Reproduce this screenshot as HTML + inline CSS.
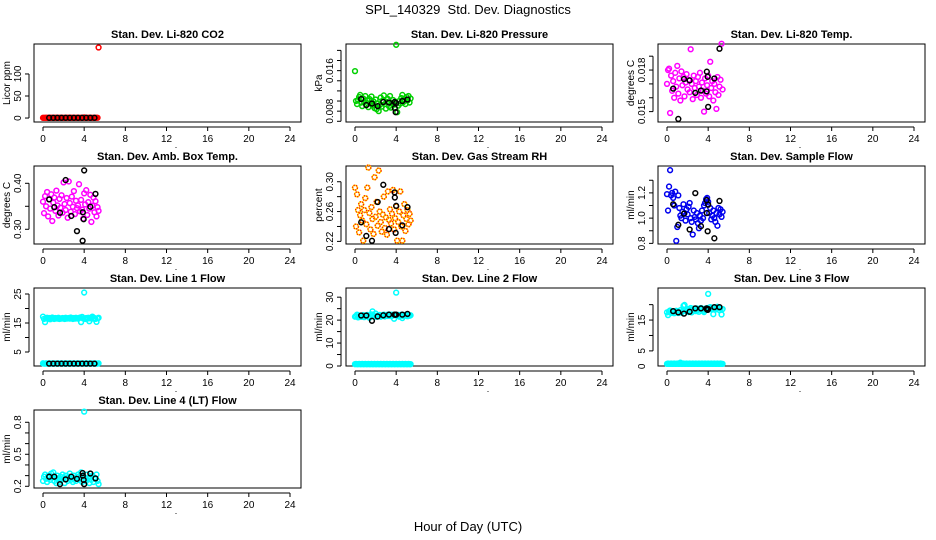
<!DOCTYPE html>
<html><head><meta charset="utf-8"><style>
body{margin:0;background:#fff;}
svg{display:block;font-family:"Liberation Sans",Arial,sans-serif;}
</style></head><body>
<svg id="chart" width="936" height="540" viewBox="0 0 936 540">
<text x="468" y="14" text-anchor="middle" font-size="13">SPL_140329&#160; Std. Dev. Diagnostics</text>
<text x="468" y="531" text-anchor="middle" font-size="13">Hour of Day (UTC)</text>
</svg>
<script>
const xTicks=[0,4,8,12,16,20,24];
const H=[0.0,0.1,0.2,0.3,0.4,0.5,0.6,0.7,0.8,0.9,1.0,1.1,1.2,1.3,1.4,1.5,1.6,1.7,1.8,1.9,2.0,2.1,2.2,2.3,2.4,2.5,2.6,2.7,2.8,2.9,3.0,3.1,3.2,3.3,3.4,3.5,3.6,3.7,3.8,3.9,4.0,4.1,4.2,4.3,4.4,4.5,4.6,4.7,4.8,4.9,5.0,5.1,5.2,5.3,5.4];
const BH=[0.6,1.1,1.65,2.2,2.75,3.3,3.85,3.87,3.95,4.6,5.1,4.0];
const BH12=[0.6,1.0,1.4,1.8,2.2,2.6,3.0,3.4,3.8,4.2,4.6,5.0];

const co2C=[0.5,0.4,0.6,0.5,0.5,0.4,0.6,0.5,0.5,0.6,0.4,0.5,0.5,0.6,0.5,0.4,0.5,0.6,0.5,0.5,0.4,0.6,0.5,0.5,0.6,0.5,0.4,0.5,0.5,0.6,0.5,0.4,0.5,0.6,0.5,0.5,0.4,0.6,0.5,0.5,1.5,0.5,0.6,0.4,0.5,0.5,0.6,0.5,0.4,0.5,0.6,0.5,0.5,0.6,160];
const co2B=[0.5,0.5,0.5,0.5,0.5,0.5,0.5,0.5,0.5,0.5,0.5,0.5];
const presC=[0.0159,0.0100,0.0094,0.0102,0.0108,0.0112,0.0097,0.0090,0.0105,0.0098,0.0110,0.0093,0.0101,0.0088,0.0104,0.0096,0.0109,0.0091,0.0099,0.0086,0.0103,0.0084,0.0095,0.0080,0.0092,0.0107,0.0089,0.0101,0.0111,0.0094,0.0085,0.0098,0.0104,0.0090,0.0110,0.0087,0.0096,0.0102,0.0093,0.0099,0.0211,0.0078,0.0091,0.0100,0.0095,0.0106,0.0112,0.0098,0.0103,0.0094,0.0108,0.0101,0.0110,0.0097,0.0105];
const presB=[0.0104,0.0092,0.0095,0.0090,0.0098,0.0097,0.0098,0.0086,0.0078,0.0100,0.0103,0.0096];
const tempC=[0.0170,0.0180,0.0181,0.0149,0.0176,0.0165,0.0172,0.0160,0.0178,0.0168,0.0183,0.0163,0.0174,0.0158,0.0179,0.0169,0.0175,0.0161,0.0171,0.0177,0.0166,0.0173,0.0164,0.0195,0.0170,0.0159,0.0176,0.0167,0.0172,0.0162,0.0175,0.0168,0.0178,0.0160,0.0171,0.0165,0.0150,0.0174,0.0163,0.0169,0.0176,0.0161,0.0186,0.0167,0.0172,0.0158,0.0170,0.0164,0.0152,0.0175,0.0162,0.0168,0.0173,0.0199,0.0166];
const tempB=[0.01666,0.01447,0.01735,0.01725,0.01635,0.01652,0.01646,0.01788,0.01751,0.01739,0.01954,0.01534];
const ambC=[0.360,0.335,0.372,0.350,0.381,0.328,0.365,0.345,0.376,0.318,0.358,0.369,0.340,0.384,0.352,0.330,0.366,0.347,0.374,0.336,0.402,0.355,0.342,0.368,0.325,0.404,0.357,0.338,0.371,0.349,0.383,0.333,0.362,0.346,0.352,0.398,0.339,0.364,0.343,0.323,0.378,0.354,0.385,0.331,0.359,0.345,0.375,0.316,0.351,0.369,0.337,0.361,0.328,0.348,0.340];
const ambB=[0.365,0.348,0.336,0.407,0.329,0.296,0.275,0.337,0.322,0.349,0.377,0.428];
const rhC=[0.292,0.240,0.283,0.262,0.232,0.255,0.270,0.248,0.221,0.262,0.278,0.243,0.292,0.319,0.258,0.236,0.266,0.250,0.230,0.306,0.253,0.273,0.241,0.315,0.260,0.246,0.233,0.256,0.280,0.238,0.252,0.229,0.287,0.249,0.263,0.244,0.257,0.289,0.236,0.251,0.267,0.221,0.246,0.260,0.287,0.240,0.221,0.255,0.270,0.234,0.250,0.262,0.243,0.257,0.248];
const rhB=[0.2456,0.2273,0.2208,0.2728,0.2959,0.2365,0.2857,0.2788,0.2314,0.2415,0.2659,0.2677];
const flowC=[1.19,1.06,1.25,1.38,1.18,1.20,1.16,1.10,1.21,0.82,0.93,1.18,1.08,1.02,1.00,1.05,1.11,1.04,0.98,1.07,1.03,1.09,1.12,1.00,0.97,0.87,1.06,1.01,0.99,1.04,0.96,0.92,1.02,0.98,1.06,1.00,1.10,1.12,1.15,1.16,1.13,1.04,1.08,0.99,1.02,1.06,1.00,0.97,1.04,0.94,1.08,1.03,1.07,1.01,1.05];
const flowB=[1.110,0.947,1.035,0.910,1.198,0.936,1.142,1.040,0.896,0.840,1.136,1.107];
const l1C=[17.2,16.4,15.3,16.6,16.8,16.5,16.7,16.3,16.6,16.9,16.5,16.4,16.7,16.6,16.5,16.8,16.4,16.6,16.5,16.7,16.6,16.4,16.8,16.5,16.6,16.7,16.5,16.9,16.6,16.4,16.7,16.5,16.8,16.6,16.5,16.7,16.9,15.3,17.1,16.6,25.5,16.4,16.7,16.5,16.8,15.6,16.6,16.9,17.2,16.5,16.7,16.4,15.4,16.6,16.8];
const l1Low=[1.1,1.0,1.0,1.1,1.0,1.0,1.1,1.0,1.0,1.1,1.0,1.0,1.1,1.0,1.0,1.1,1.0,1.0,1.1,1.0,1.0,1.1,1.0,1.0,1.1,1.0,1.0,1.1,1.0,1.0,1.1,1.0,1.0,1.1,1.0,1.0,1.1,1.0,1.0,1.1,1.0,1.0,1.1,1.0,1.0,1.1,1.0,1.0,1.1,1.0,1.0,1.1,1.0,1.0,1.1];
const l1B=[1.0,1.0,1.0,1.0,1.0,1.0,1.0,1.0,1.0,1.0,1.0,1.0];
const l2C=[21.5,21.8,22.4,21.2,21.6,22.0,21.4,21.7,22.2,21.3,21.6,21.9,22.3,21.5,21.0,21.8,22.5,23.8,22.1,21.6,22.9,21.4,22.0,21.7,22.3,21.5,21.8,22.1,22.4,21.6,22.0,22.3,21.8,22.5,22.1,21.7,22.4,22.0,20.6,22.2,32.0,21.9,22.3,21.5,22.0,22.4,20.9,21.8,22.2,22.0,22.5,21.7,22.3,21.9,22.1];
const l2Low=[0.8,0.9,0.8,0.8,0.9,0.8,0.8,0.9,0.8,0.8,0.9,0.8,0.8,0.9,0.8,0.8,0.9,0.8,0.8,0.9,0.8,0.8,0.9,0.8,0.8,0.9,0.8,0.8,0.9,0.8,0.8,0.9,0.8,0.8,0.9,0.8,0.8,0.9,0.8,0.8,0.9,0.8,0.8,0.9,0.8,0.8,0.9,0.8,0.8,0.9,0.8,0.8,0.9,0.8,0.8];
const l2B=[22.0,22.0,19.7,21.6,22.1,22.4,22.4,22.4,22.4,22.4,22.7,22.4];
const l3C=[17.5,16.6,17.8,18.1,17.3,17.6,17.9,17.2,17.4,18.0,17.7,17.3,17.6,18.2,17.4,17.8,19.6,19.9,18.3,17.9,18.6,17.6,18.4,18.9,17.5,18.1,18.7,18.3,17.9,18.8,18.2,17.7,18.5,18.9,18.4,18.0,17.6,18.7,18.3,18.9,23.5,18.5,19.2,18.6,19.0,16.9,19.1,18.4,18.8,19.3,18.9,18.2,18.7,16.8,18.6];
const l3Low=[0.8,0.9,0.8,0.8,0.9,0.8,0.8,0.9,0.8,0.8,0.9,0.8,0.8,1.2,0.8,0.8,0.9,0.8,0.8,0.9,0.8,0.8,0.9,0.8,0.8,0.9,0.8,0.8,0.9,0.8,0.8,0.9,0.8,0.8,0.9,0.8,0.8,0.9,0.8,0.8,0.9,0.8,0.8,0.9,0.8,0.8,0.9,0.8,0.8,0.9,0.8,0.8,0.9,0.8,0.8];
const l3B=[17.9,17.5,17.1,17.7,18.8,18.8,18.8,18.5,18.3,19.2,19.2,18.6];
const l4C=[0.25,0.29,0.31,0.27,0.24,0.30,0.28,0.26,0.32,0.29,0.33,0.25,0.28,0.23,0.30,0.27,0.24,0.29,0.26,0.31,0.28,0.23,0.30,0.27,0.25,0.29,0.32,0.26,0.28,0.24,0.30,0.27,0.25,0.29,0.31,0.26,0.28,0.33,0.24,0.30,0.90,0.27,0.25,0.31,0.28,0.23,0.29,0.26,0.30,0.24,0.28,0.27,0.31,0.25,0.22];
const l4B=[0.29,0.29,0.22,0.265,0.29,0.27,0.324,0.30,0.26,0.32,0.274,0.22];

const NS='http://www.w3.org/2000/svg';
const svg=document.getElementById('chart');
function mk(tag,attrs,parent){const e=document.createElementNS(NS,tag);for(const k in attrs)e.setAttribute(k,attrs[k]);(parent||svg).appendChild(e);return e;}

const colL=[34,346,658], rowT=[44,166,288,410], BW=267, BHh=78;
const panels=[
 {t:'Stan. Dev. Li-820 CO2',yl:'Licor ppm',c:0,r:0,ymin:-9,ymax:168,ticks:[0,50,100],labs:['0','50','100'],series:[[H,co2C,'red'],[BH12,co2B,'black']],id:'co2'},
 {t:'Stan. Dev. Li-820 Pressure',yl:'kPa',c:1,r:0,ymin:0.00586,ymax:0.02126,ticks:[0.006,0.008,0.010,0.012,0.014,0.016,0.018,0.020],labs:['0.008','0.016'],series:[[H,presC,'#00d000'],[BH,presB,'black']],id:'pressure'},
 {t:'Stan. Dev. Li-820 Temp.',yl:'degrees C',c:2,r:0,ymin:0.01425,ymax:0.01988,ticks:[0.015,0.016,0.017,0.018,0.019],labs:['0.015','0.018'],series:[[H,tempC,'#ff00ff'],[BH,tempB,'black']],id:'licor-temp'},
 {t:'Stan. Dev. Amb. Box Temp.',yl:'degrees C',c:0,r:1,ymin:0.268,ymax:0.4376,ticks:[0.30,0.35,0.40],labs:['0.30','0.40'],series:[[H,ambC,'#ff00ff'],[BH,ambB,'black']],id:'amb-temp'},
 {t:'Stan. Dev. Gas Stream RH',yl:'percent',c:1,r:1,ymin:0.2165,ymax:0.3211,ticks:[0.22,0.24,0.26,0.28,0.30],labs:['0.22','0.26','0.30'],series:[[H,rhC,'rh'],[BH,rhB,'black']],id:'rh'},
 {t:'Stan. Dev. Sample Flow',yl:'ml/min',c:2,r:1,ymin:0.795,ymax:1.413,ticks:[0.8,0.9,1.0,1.1,1.2,1.3],labs:['0.8','1.0','1.2'],series:[[H,flowC,'#0000ee'],[BH,flowB,'black']],id:'sample-flow'},
 {t:'Stan. Dev. Line 1 Flow',yl:'ml/min',c:0,r:2,ymin:0.17,ymax:27.07,ticks:[5,10,15,20,25],labs:['5','15','25'],series:[[H,l1C,'#00ffff'],[H,l1Low,'#00ffff'],[BH12,l1B,'black']],id:'line1'},
 {t:'Stan. Dev. Line 2 Flow',yl:'ml/min',c:1,r:2,ymin:0,ymax:34,ticks:[0,5,10,15,20,25,30],labs:['0','10','20','30'],series:[[H,l2C,'#00ffff'],[H,l2Low,'#00ffff'],[BH,l2B,'black']],id:'line2'},
 {t:'Stan. Dev. Line 3 Flow',yl:'ml/min',c:2,r:2,ymin:0.1,ymax:25.4,ticks:[0,5,10,15,20],labs:['0','5','15'],series:[[H,l3C,'#00ffff'],[H,l3Low,'#00ffff'],[BH,l3B,'black']],id:'line3'},
 {t:'Stan. Dev. Line 4 (LT) Flow',yl:'ml/min',c:0,r:3,ymin:0.184,ymax:0.915,ticks:[0.2,0.3,0.4,0.5,0.6,0.7,0.8],labs:['0.2','0.5','0.8'],series:[[H,l4C,'#00ffff'],[BH,l4B,'black']],id:'line4'}
];
panels.forEach(p=>{
 const L=colL[p.c],T=rowT[p.r];
 const xs=h=>L+9+h*(247/24);
 const ys=v=>T+BHh-(v-p.ymin)/(p.ymax-p.ymin)*BHh;
 const g=mk('g',{});
 
 
 const tt=mk('text',{x:L+BW/2,y:T-6,'text-anchor':'middle','font-size':'11','font-weight':'bold'},g);tt.textContent=p.t;
 
 
 const box=mk('rect',{x:L,y:T,width:BW,height:BHh,fill:'none',stroke:'#000','stroke-width':1},g);
 
 
 const xa=mk('g',{},g);
 
 
 mk('line',{x1:xs(0),x2:xs(24),y1:T+BHh+5,y2:T+BHh+5,stroke:'#000'},xa);
 xTicks.forEach(h=>{mk('line',{x1:xs(h),x2:xs(h),y1:T+BHh+5,y2:T+BHh+9,stroke:'#000'},xa);
  const tx=mk('text',{x:xs(h),y:T+BHh+20,'text-anchor':'middle','font-size':'10'},xa);tx.textContent=h;
  
  });
 const dot=mk('text',{x:L+142,y:T+BHh+26,'text-anchor':'middle','font-size':'9'},xa);dot.textContent='.';
 const ya=mk('g',{},g);
 
 
 const tk=p.ticks.filter(v=>v>=p.ymin&&v<=p.ymax);
 mk('line',{x1:L-5,x2:L-5,y1:ys(tk[0]),y2:ys(tk[tk.length-1]),stroke:'#000'},ya);
 tk.forEach(v=>{mk('line',{x1:L-5,x2:L-9,y1:ys(v),y2:ys(v),stroke:'#000'},ya);});
 p.labs.forEach(s=>{const yy=ys(parseFloat(s));const tx=mk('text',{x:L-13,y:yy,'text-anchor':'middle','font-size':'10',transform:`rotate(-90 ${L-13} ${yy})`},ya);tx.textContent=s;
  
  });
 const ylb=mk('text',{x:L-24,y:T+BHh/2,'text-anchor':'middle','font-size':'10',transform:`rotate(-90 ${L-24} ${T+BHh/2})`},ya);ylb.textContent=p.yl;
 
 
 p.series.forEach(s=>{
  const sg=mk('g',{},g);
  
  
  s[0].forEach((h,i)=>{const cx=xs(h),cy=ys(s[1][i]);
   if(s[2]==='rh'){mk('circle',{cx,cy,r:2.4,fill:'none',stroke:'#ffee00','stroke-width':1.5},sg);
     mk('circle',{cx,cy,r:2.4,fill:'none',stroke:'#ff2000','stroke-width':1.5,'stroke-dasharray':'1.2 1.2'},sg);}
   else{mk('circle',{cx,cy,r:2.4,fill:'none',stroke:s[2],'stroke-width':1.5},sg);}
  });
 });
});
</script>
</body></html>
